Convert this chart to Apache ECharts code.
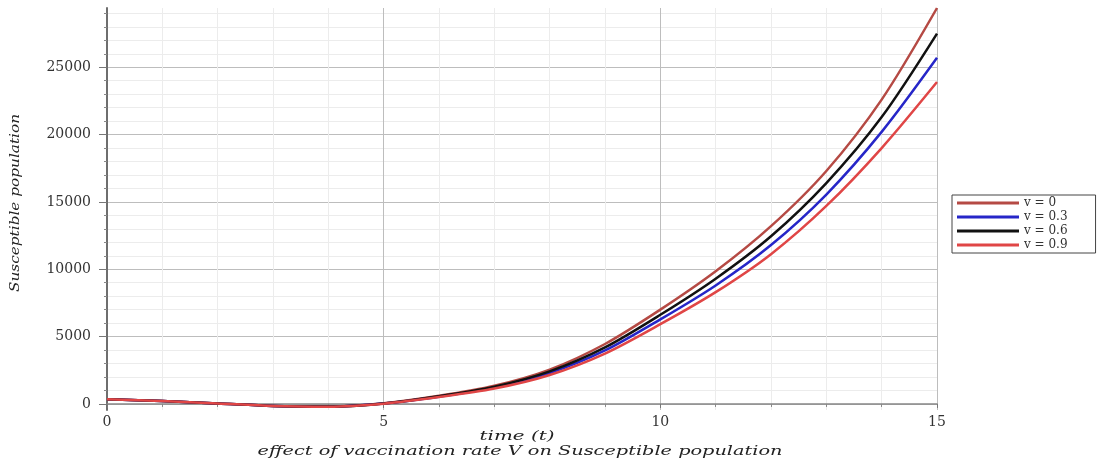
<!DOCTYPE html>
<html lang="en">
<head>
    <meta charset="UTF-8">
    <title>Susceptible population</title>
    <script src="https://cdn.jsdelivr.net/npm/echarts@6.0.0/dist/echarts.min.js"></script>
    <style>
        body { margin: 0; background: #fff; }
        #chart { width: 1105px; height: 461px; }
    </style>
</head>
<body>
    <div id="chart"></div>
    <script>
        // time values (t)
        var tValues = [0, 1, 2, 3, 4, 5, 6, 7, 8, 9, 10, 11, 12, 13, 14, 15];
        // susceptible population
        var sV0  = [350, 220, 40, -150, -190, 50, 600, 1350, 2550, 4450, 7000, 9850, 13200, 17300, 22600, 29400];
        var sV03 = [350, 220, 40, -150, -200, 30, 540, 1210, 2290, 3970, 6280, 8800, 11800, 15550, 20200, 25700];
        var sV06 = [350, 220, 40, -150, -195, 40, 570, 1280, 2420, 4200, 6620, 9300, 12450, 16400, 21300, 27500];
        var sV09 = [350, 220, 40, -150, -205, 20, 510, 1140, 2150, 3740, 5920, 8300, 11120, 14700, 19000, 23900];
        var seriesNames = ['v = 0', 'v = 0.3', 'v = 0.6', 'v = 0.9'];
        var seriesColors = ['#b54a44', '#2626c8', '#111111', '#e04646'];
        var yTicks = [0, 5000, 10000, 15000, 20000, 25000];
        var yMinorTicks = [];
        for (var v = 1000; v < 29400; v += 1000) {
            if (v % 5000 !== 0) yMinorTicks.push(v);
        }

        function pairs(ys) {
            return tValues.map(function (t, i) { return [t, ys[i]]; });
        }

        // stretch the italic captions to the width they have in the picture
        var measure = document.createElement('canvas').getContext('2d');
        var capFont = 'italic 12px "DejaVu Serif"';
        function fit(text, target) {
            measure.font = capFont;
            return target / measure.measureText(text).width;
        }

        var myChart = echarts.init(document.getElementById('chart'));
        var labelFont = { fontFamily: 'DejaVu Serif', fontSize: 14, color: '#333' };

        var option = {
            animation: false,
            grid: { left: 107, right: 168, top: 8, bottom: 51 },
            legend: {
                data: seriesNames,
                orient: 'vertical',
                left: 952,
                top: 195,
                icon: 'rect',
                itemWidth: 62,
                itemHeight: 3,
                itemGap: 2,
                padding: [2, 28, 2, 5],
                borderColor: '#444',
                borderWidth: 1,
                textStyle: { fontFamily: 'DejaVu Serif', fontSize: 12, lineHeight: 12, color: '#333' }
            },
            xAxis: {
                type: 'value',
                min: 0,
                max: 15,
                interval: 5,
                axisLine: { lineStyle: { color: '#888', width: 1.5 } },
                axisTick: { length: 4, lineStyle: { color: '#777' } },
                minorTick: { show: true, splitNumber: 5, length: 3, lineStyle: { color: '#888' } },
                axisLabel: Object.assign({ margin: 5 }, labelFont),
                splitLine: { show: true, lineStyle: { color: '#bdbdbd', width: 1 } },
                minorSplitLine: { show: true, lineStyle: { color: '#ececec', width: 1 } }
            },
            yAxis: [
                {
                    type: 'value',
                    min: -450,
                    max: 29400,
                    position: 'left',
                    axisLine: { show: true, lineStyle: { color: '#6e6e6e', width: 2 } },
                    axisTick: { show: true, length: 8, customValues: yTicks, lineStyle: { color: '#777' } },
                    axisLabel: Object.assign({
                        margin: 16,
                        customValues: yTicks,
                        formatter: function (val) { return String(val); }
                    }, labelFont),
                    splitLine: { show: true, lineStyle: { color: '#bdbdbd', width: 1 } }
                },
                {
                    type: 'value',
                    min: -450,
                    max: 29400,
                    position: 'left',
                    axisLine: { show: false },
                    axisTick: { show: true, length: 3, customValues: yMinorTicks, lineStyle: { color: '#888' } },
                    axisLabel: { show: false },
                    splitLine: { show: true, lineStyle: { color: '#ececec', width: 1 } }
                }
            ],
            graphic: [
                {
                    type: 'text', x: 517, y: 437, scaleX: fit('time (t)', 75),
                    style: { text: 'time (t)', font: capFont, fill: '#222', textAlign: 'center', textVerticalAlign: 'middle', align: 'center', verticalAlign: 'middle' }
                },
                {
                    type: 'text', x: 520, y: 452, scaleX: fit('effect of vaccination rate V on Susceptible population', 525),
                    style: { text: 'effect of vaccination rate V on Susceptible population', font: capFont, fill: '#222', textAlign: 'center', textVerticalAlign: 'middle', align: 'center', verticalAlign: 'middle' }
                },
                {
                    type: 'text', x: 16, y: 203, rotation: Math.PI / 2, scaleX: fit('Susceptible population', 178),
                    style: { text: 'Susceptible population', font: capFont, fill: '#222', textAlign: 'center', textVerticalAlign: 'middle', align: 'center', verticalAlign: 'middle' }
                }
            ],
            series: [sV0, sV03, sV06, sV09].map(function (ys, i) {
                return {
                    name: seriesNames[i],
                    type: 'line',
                    data: pairs(ys),
                    smooth: 0.3,
                    symbol: 'none',
                    lineStyle: { color: seriesColors[i], width: 2.5 },
                    itemStyle: { color: seriesColors[i] }
                };
            })
        };

        myChart.setOption(option);
    </script>
</body>
</html>
